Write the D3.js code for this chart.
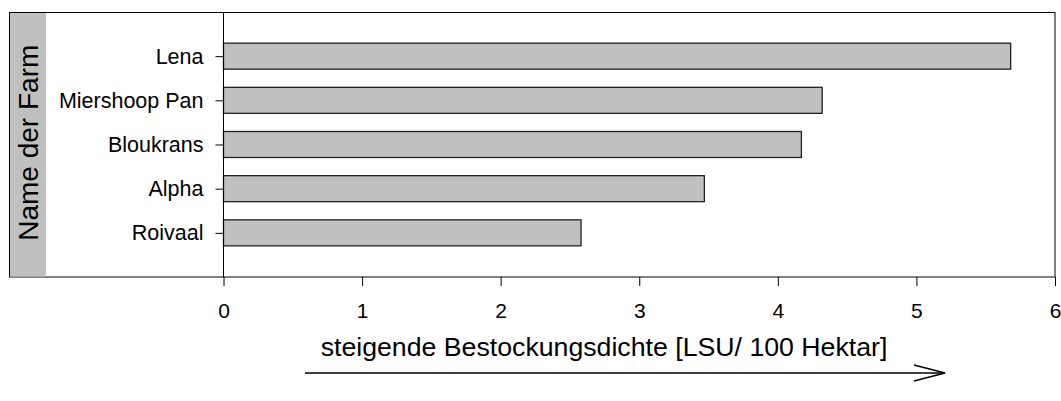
<!DOCTYPE html>
<html>
<head>
<meta charset="utf-8">
<script src="https://cdn.jsdelivr.net/npm/d3@7"></script>
<style>
  body { margin: 0; background: #fff; }
  svg text { font-family: "Liberation Sans", Arial, sans-serif; fill: #000; }
</style>
</head>
<body>
<svg id="chart" width="1061" height="401"></svg>
<script>
// farm names, top to bottom
const farms = ["Lena", "Miershoop Pan", "Bloukrans", "Alpha", "Roivaal"];
// stocking density [LSU / 100 ha]
const density = [5.68, 4.32, 4.17, 3.47, 2.58];
const xTicks = [0, 1, 2, 3, 4, 5, 6];

const yTitle = "Name der Farm";
const xTitle = "steigende Bestockungsdichte [LSU/ 100 Hektar]";

const box = { left: 9.5, top: 12.5, right: 1055, bottom: 277 };
const plotLeft = 223.5;
const barHeight = 26;

const svg = d3.select("#chart");

const x = d3.scaleLinear().domain([0, 6]).range([plotLeft, box.right]);
const y = d3.scalePoint().domain(farms).range([12, 277]).padding(1);

// frame + grey title strip
svg.append("rect")
  .attr("x", box.left).attr("y", box.top)
  .attr("width", box.right - box.left).attr("height", box.bottom - box.top)
  .attr("fill", "#fff").attr("stroke", "#000").attr("stroke-width", 1);

svg.append("rect")
  .attr("x", box.left + 0.5).attr("y", box.top + 0.5)
  .attr("width", 46 - box.left - 0.5).attr("height", box.bottom - box.top - 1)
  .attr("fill", "#c0c0c0");

svg.append("text")
  .attr("transform", "translate(" + 37.5 + "," + ((box.top + box.bottom) / 2 - 2) + ") rotate(-90)")
  .attr("text-anchor", "middle")
  .attr("font-size", "28px")
  .text(yTitle);

// bars
const data = farms.map((f, i) => ({ name: f, value: density[i] }));

svg.append("g")
  .selectAll("rect")
  .data(data)
  .enter().append("rect")
  .attr("x", x(0))
  .attr("y", (d) => y(d.name) - barHeight / 2)
  .attr("width", (d) => x(d.value) - x(0))
  .attr("height", barHeight)
  .attr("fill", "#c0c0c0")
  .attr("stroke", "#222")
  .attr("stroke-width", 1.3);

// axes
const xAxis = d3.axisBottom(x)
  .tickValues(xTicks)
  .tickFormat(d3.format("d"))
  .tickSize(9)
  .tickPadding(17);

const gx = svg.append("g")
  .attr("transform", "translate(0," + box.bottom + ")")
  .call(xAxis);
gx.select(".domain").remove();
gx.selectAll("line").attr("stroke", "#000");
gx.selectAll("text").attr("font-size", "21px").attr("font-family", null);

const yAxis = d3.axisLeft(y)
  .tickSize(8)
  .tickPadding(12);

const gy = svg.append("g")
  .attr("transform", "translate(" + plotLeft + ",0)")
  .call(yAxis);
gy.select(".domain").attr("d", "M0," + box.top + "V" + box.bottom).attr("stroke", "#000");
gy.selectAll("line").attr("stroke", "#000");
gy.selectAll("text").attr("font-size", "21.5px").attr("font-family", null);

// axis title with arrow
svg.append("text")
  .attr("x", 604)
  .attr("y", 356)
  .attr("text-anchor", "middle")
  .attr("font-size", "26.7px")
  .text(xTitle);

const arrowY = 373;
const arrow = d3.line();
svg.append("path")
  .attr("d", arrow([[305, arrowY], [945, arrowY]]))
  .attr("stroke", "#000").attr("stroke-width", 1.5).attr("fill", "none");
svg.append("path")
  .attr("d", arrow([[914, arrowY - 8], [945, arrowY], [914, arrowY + 8]]))
  .attr("stroke", "#000").attr("stroke-width", 1.5).attr("fill", "none");
</script>
</body>
</html>
